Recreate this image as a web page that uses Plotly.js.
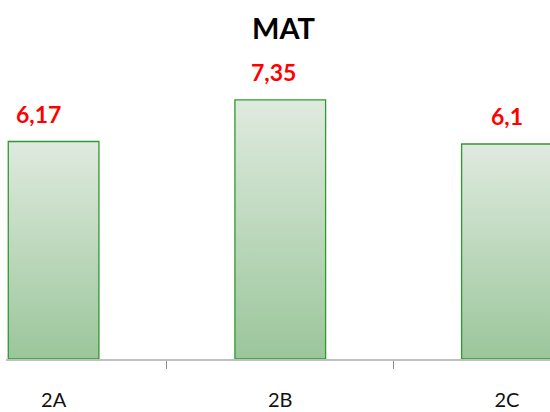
<!DOCTYPE html>
<html>
<head>
<meta charset="utf-8">
<script src="https://cdn.plot.ly/plotly-3.0.1.min.js"></script>
<style>
  html, body { margin: 0; padding: 0; background: #fff; }
  #chart { width: 550px; height: 412px; }
</style>
</head>
<body>
<div id="chart"></div>
<script>
// Chart data
var classes = ["2A", "2B", "2C"];
var grades = [6.17, 7.35, 6.1];
var gradeLabels = ["6,17", "7,35", "6,1"];

var trace = {
    x: classes,
    y: grades,
    type: "bar",
    width: 0.4,
    marker: {
        color: "#bcd8bc",
        line: {color: "#2e9a2e", width: 1.3}
    },
    hoverinfo: "none"
};

// red value labels above each bar (Excel places them a bit left on the outer bars)
var labelShift = [-15, -7, 0];
var labels = [];
for (var i = 0; i < classes.length; i++) {
    labels.push({
        x: classes[i],
        y: grades[i],
        text: gradeLabels[i],
        showarrow: false,
        yanchor: "bottom",
        yshift: 12,
        xshift: labelShift[i],
        font: {family: "Lato, sans-serif", size: 23, color: "#ff0000", weight: "bold"}
    });
}

var layout = {
    width: 550,
    height: 412,
    margin: {l: 6, r: 0, t: 77, b: 53},
    paper_bgcolor: "#ffffff",
    plot_bgcolor: "#ffffff",
    showlegend: false,
    title: {
        text: "<b>MAT</b>",
        font: {family: "Lato, sans-serif", size: 29, color: "#000000"},
        x: 0.51,
        xref: "paper",
        y: 1 - 29 / 412,
        yref: "container",
        yanchor: "middle"
    },
    xaxis: {
        range: [-0.21, 2.19],
        showline: true,
        linecolor: "#c0c0c0",
        linewidth: 2,
        ticks: "outside",
        tickson: "boundaries",
        ticklen: 8,
        tickcolor: "#8c8c8c",
        tickwidth: 1,
        ticklabelstandoff: 22,
        tickfont: {family: "Lato, sans-serif", size: 20, color: "#111111"},
        showgrid: false,
        zeroline: false,
        fixedrange: true
    },
    yaxis: {
        range: [0, 8],
        visible: false,
        showgrid: false,
        zeroline: false,
        fixedrange: true
    },
    annotations: labels
};

Plotly.newPlot("chart", [trace], layout, {displayModeBar: false, staticPlot: true}).then(function (gd) {
    // vertical gradient fill on each bar, light at the top
    var svg = gd.querySelector(".main-svg");
    var ns = "http://www.w3.org/2000/svg";
    var defs = svg.querySelector("defs") || svg.insertBefore(document.createElementNS(ns, "defs"), svg.firstChild);
    var grad = document.createElementNS(ns, "linearGradient");
    grad.setAttribute("id", "barGrad");
    grad.setAttribute("x1", "0"); grad.setAttribute("y1", "0");
    grad.setAttribute("x2", "0"); grad.setAttribute("y2", "1");
    var stops = [["0", "#dfeadf"], ["1", "#9bc69b"]];
    stops.forEach(function (s) {
        var st = document.createElementNS(ns, "stop");
        st.setAttribute("offset", s[0]);
        st.setAttribute("stop-color", s[1]);
        grad.appendChild(st);
    });
    defs.appendChild(grad);
    gd.querySelectorAll(".bars .point path").forEach(function (p) {
        p.style.fill = "url(#barGrad)";
    });
});
</script>
</body>
</html>
